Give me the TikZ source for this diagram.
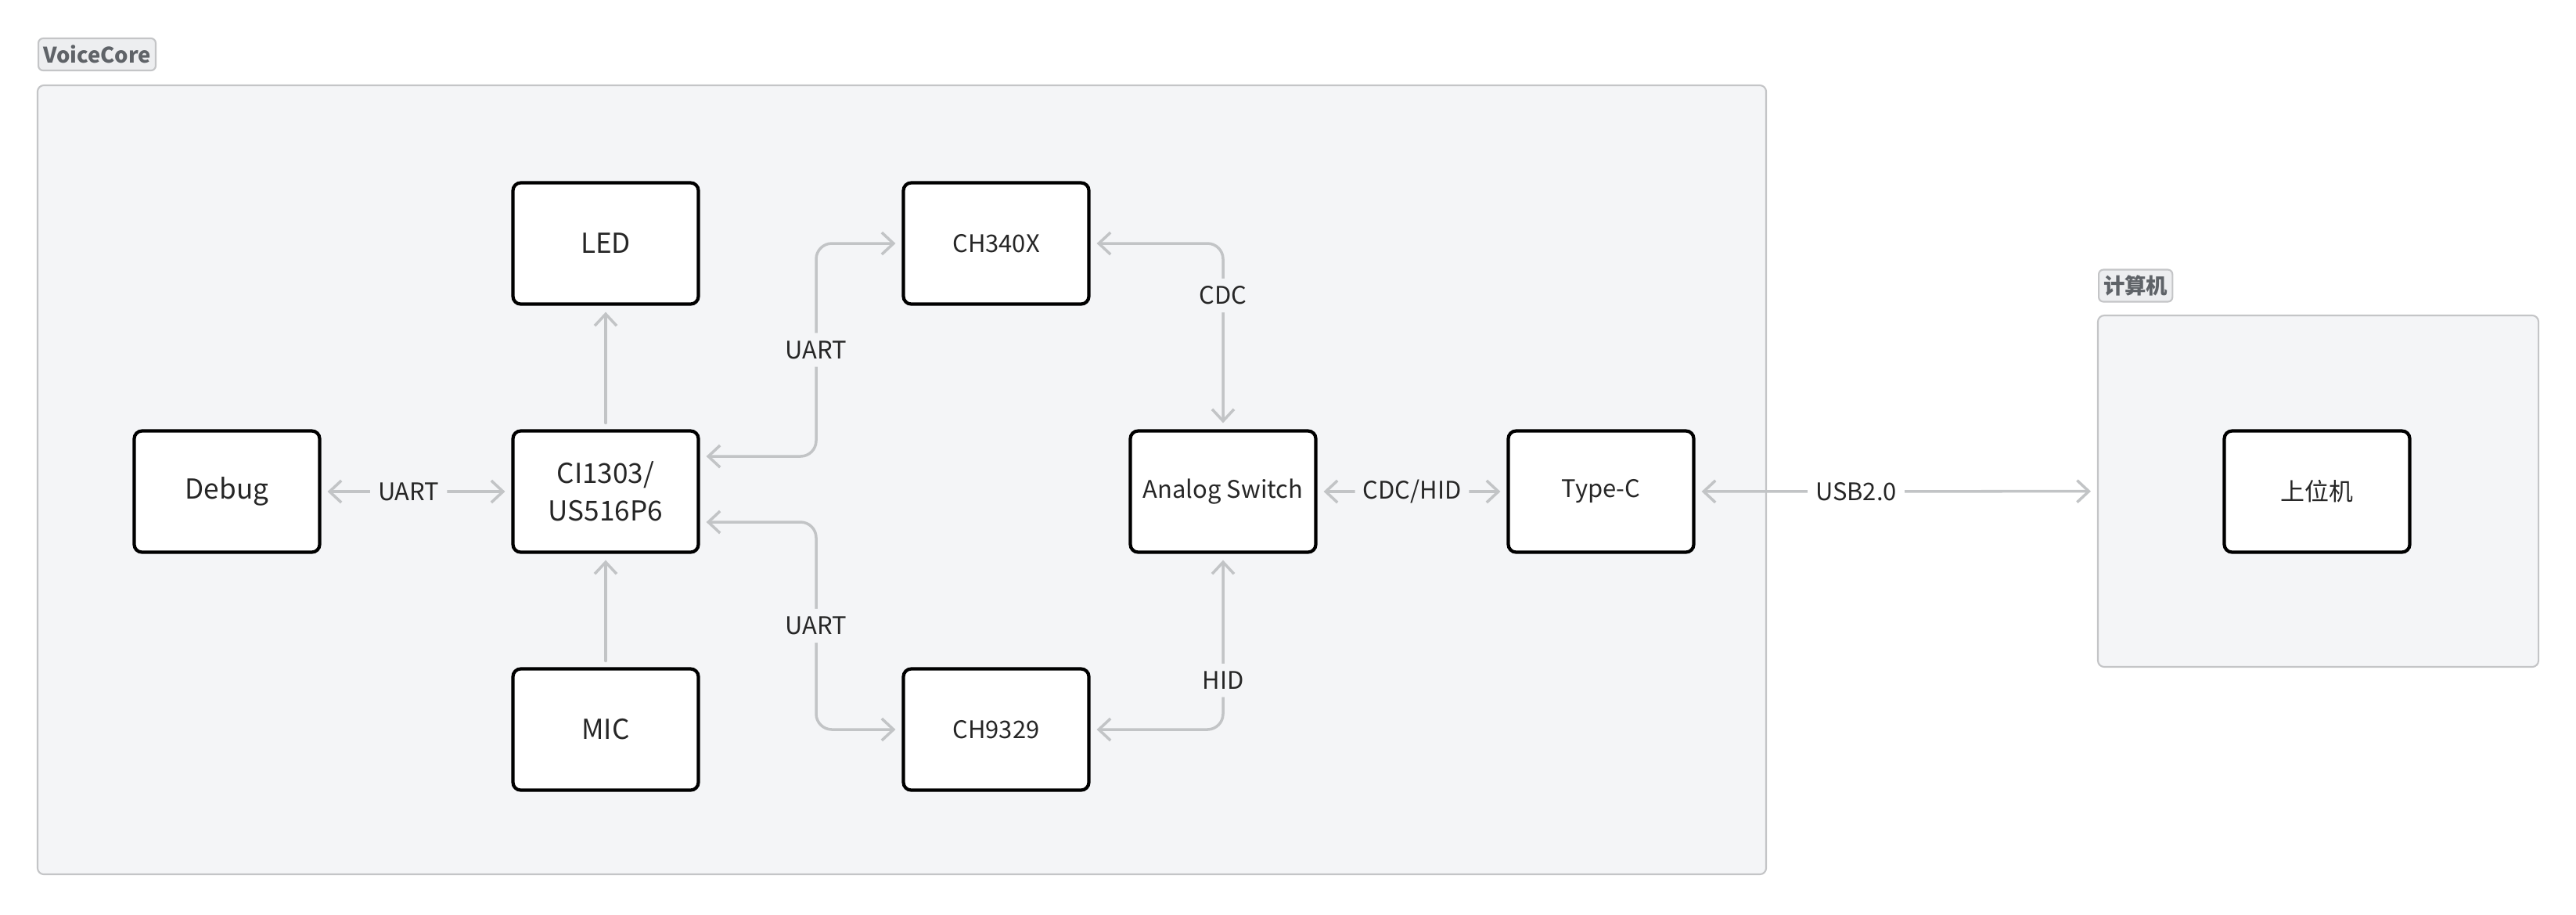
\documentclass[tikz,border=0pt]{standalone}
\usepackage{fontspec}
\setmainfont{Noto Sans CJK SC}
\usetikzlibrary{arrows.meta}

\definecolor{grpfill}{HTML}{F4F5F7}
\definecolor{grpline}{HTML}{C4C5C7}
\definecolor{tagfill}{HTML}{EDEEF0}
\definecolor{tagtxt}{HTML}{5F6368}
\definecolor{linkc}{HTML}{C2C4C6}
\definecolor{txt}{HTML}{262626}

\begin{document}
\begin{tikzpicture}[
    >={Straight Barb[length=0.15cm,width=0.28cm]},
    box/.style={draw=black, line width=1.2pt, fill=white, rounded corners=0.1cm,
        minimum width=2.37cm, minimum height=1.55cm, text=txt, align=center,
        font=\fontsize{8.8}{11}\selectfont},
    bigbox/.style={box, font=\fontsize{10}{13.7}\selectfont},
    grp/.style={draw=grpline, line width=0.6pt, fill=grpfill, rounded corners=0.08cm},
    tag/.style={draw=grpline, line width=0.6pt, fill=tagfill, rounded corners=0.06cm,
        text=tagtxt, font=\bfseries\fontsize{7.8}{9}\selectfont, anchor=west,
        minimum height=0.41cm, inner xsep=0.06cm, inner ysep=0pt},
    link/.style={draw=linkc, line width=1pt, line cap=round, rounded corners=0.2cm,
        <->, shorten <=0.08cm, shorten >=0.08cm},
    linkone/.style={link, ->},
    lbl/.style={fill=grpfill, text=txt, font=\fontsize{8.8}{11}\selectfont, inner sep=0.1cm}
]

\useasboundingbox (0,0) rectangle (32.92,-11.68);

% groups
\node[grp, minimum width=22.09cm, minimum height=10.08cm] (vc) at (11.525,-6.13) {};
\node[tag] (vctag) at (0.48,-0.695) {VoiceCore};
\node[grp, minimum width=5.63cm, minimum height=4.49cm] (pc) at (29.625,-6.275) {};
\node[tag] (pctag) at (26.81,-3.65) {计算机};

% blocks
\node[bigbox] (led) at (7.74,-3.11) {LED};
\node[box] (chA) at (12.73,-3.11) {CH340X};
\node[bigbox] (debug) at (2.90,-6.28) {Debug};
\node[bigbox] (ci) at (7.74,-6.28) {CI1303/\\US516P6};
\node[box] (asw) at (15.63,-6.28) {Analog Switch};
\node[box] (typec) at (20.46,-6.28) {Type-C};
\node[bigbox] (mic) at (7.74,-9.32) {MIC};
\node[box] (chB) at (12.73,-9.32) {CH9329};
\node[box] (host) at (29.61,-6.28) {上位机};

\coordinate (busx) at (10.43,0);

% links
\draw[link] (debug) -- node[lbl, pos=0.46] {UART} (ci);
\draw[linkone] (ci) -- (led);
\draw[linkone] (mic) -- (ci);
\draw[link] ([yshift=4.5mm]ci.east) -| (busx |- chA) node[lbl, pos=0.75] {UART} -- (chA);
\draw[link] ([yshift=-3.9mm]ci.east) -| (busx |- chB) node[lbl, pos=0.75] {UART} -- (chB);
\draw[link] (chA) -- (asw |- chA) -- node[lbl, pos=0.28] {CDC} (asw);
\draw[link] (chB) -- (asw |- chB) -- node[lbl, pos=0.28] {HID} (asw);
\draw[link] (asw) -- node[lbl] {CDC/HID} (typec);
\draw[link] (typec) -- node[lbl, fill=white, pos=0.4] {USB2.0} (pc);

\end{tikzpicture}
\end{document}
